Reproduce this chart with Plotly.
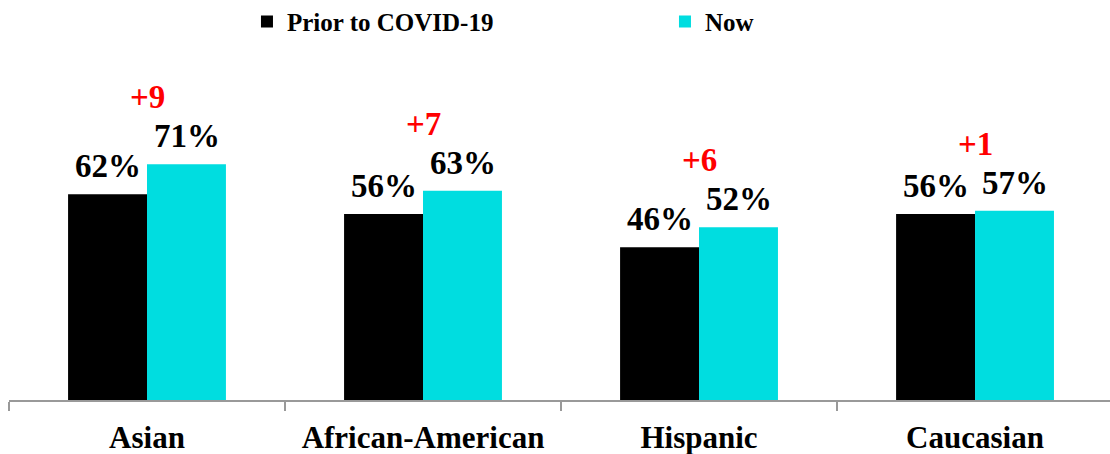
import plotly.graph_objects as go

groups = ["Asian", "African-American", "Hispanic", "Caucasian"]
prior = [62, 56, 46, 56]
now = [71, 63, 52, 57]
change = ["+9", "+7", "+6", "+1"]

FONT = "Liberation Serif"
CYAN = "#00DDE0"

fig = go.Figure()
fig.add_trace(go.Bar(name="Prior to COVID-19", x=groups, y=prior,
                     marker=dict(color="#000000", line=dict(width=0))))
fig.add_trace(go.Bar(name="Now", x=groups, y=now,
                     marker=dict(color=CYAN, line=dict(width=0))))

# value labels above each bar
for i, g in enumerate(groups):
    for vals, off in ((prior, -0.5), (now, 0.5)):
        fig.add_annotation(x=g, y=vals[i], text=f"{vals[i]}%",
                           xshift=off * 79, yshift=8, yanchor="bottom",
                           showarrow=False,
                           font=dict(family=FONT, size=33, color="#000000", weight="bold"))
    fig.add_annotation(x=g, y=max(prior[i], now[i]), text=change[i],
                       yshift=67, yanchor="middle", showarrow=False,
                       font=dict(family=FONT, size=33, color="#FF0000", weight="bold"))

fig.update_layout(
    width=1110, height=454,
    margin=dict(l=9, r=0, t=68, b=54),
    paper_bgcolor="white", plot_bgcolor="white",
    barmode="group", bargap=0.428, bargroupgap=0,
    font=dict(family=FONT, color="#000000"),
    showlegend=True,
    legend=dict(orientation="h", x=0.2225, xanchor="left", y=0.952, yanchor="middle",
                yref="container", xref="container",
                entrywidth=373, entrywidthmode="pixels",
                font=dict(family=FONT, size=25, color="#000000", weight="bold"),
                itemclick=False),
    xaxis=dict(range=[-0.5, 3.489], showline=True, linecolor="#999999", linewidth=1.5,
               ticks="outside", tickson="boundaries", ticklen=9, tickcolor="#999999",
               tickwidth=1.5, showgrid=False,
               tickfont=dict(family=FONT, size=31, color="#000000", weight="bold"),
               ticklabelstandoff=9),
    yaxis=dict(range=[0, 100], visible=False, showgrid=False),
)

fig.write_html("out.html")
